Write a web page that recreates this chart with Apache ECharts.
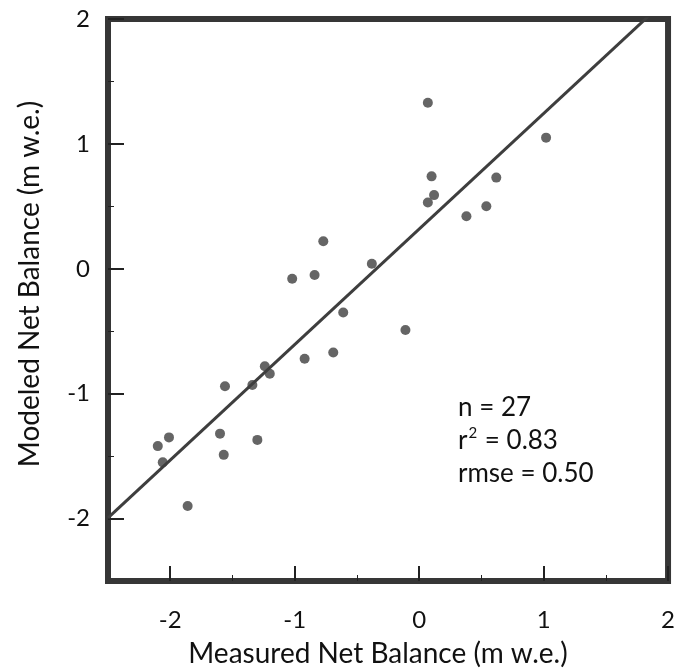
<!DOCTYPE html>
<html>
<head>
<meta charset="utf-8">
<script src="https://cdn.jsdelivr.net/npm/echarts@6/dist/echarts.min.js"></script>
<style>
  html, body { margin: 0; padding: 0; background: #fff; }
  #chart { width: 678px; height: 671px; }
</style>
</head>
<body>
<div id="chart"></div>
<script>
// Measured vs modeled glacier net balance (m w.e.)
const measured = [-0.92, -1.24, -1.20, -1.56, -1.34, -2.01, -2.10, -1.60, -1.30, -1.57, -2.06, -1.86,
                  -0.77, -1.02, -0.84, -0.38, -0.61, -0.11, -0.69,
                   0.07, 1.02, 0.10, 0.62, 0.12, 0.07, 0.54, 0.38];
const modeled  = [-0.72, -0.78, -0.84, -0.94, -0.93, -1.35, -1.42, -1.32, -1.37, -1.49, -1.55, -1.90,
                   0.22, -0.08, -0.05, 0.04, -0.35, -0.49, -0.67,
                   1.33, 1.05, 0.74, 0.73, 0.59, 0.53, 0.50, 0.42];

// Least-squares line drawn across the plot
const fitSlope = 0.925;
const fitIntercept = 0.318;

const majorTicks = [-2, -1, 0, 1, 2];
const minorTicks = [-1.5, -0.5, 0.5, 1.5];
// {sup|...} marks the superscript in the r-squared line
const statsLines = ['n = 27', 'r{sup|2} = 0.83', 'rmse = 0.50'];

const axisMin = -2.5, axisMax = 2;
const FONT = 'Lato';
const MARK = '#3e3e3e';

const points = measured.map((m, i) => [m, modeled[i]]);
const fitLine = [axisMin, axisMax].map(x => [x, fitIntercept + fitSlope * x]);

function makeAxis(ticks, len, width, withLabels, margin) {
  return {
    type: 'value', min: axisMin, max: axisMax, interval: 0.5,
    axisLine: { show: false, onZero: false },
    splitLine: { show: false },
    axisTick: { show: true, inside: true, length: len, customValues: ticks,
                lineStyle: { color: '#222', width: width } },
    axisLabel: withLabels
      ? { show: true, customValues: ticks, margin: margin, fontFamily: FONT, fontSize: 24, color: '#111' }
      : { show: false }
  };
}

const chart = echarts.init(document.getElementById('chart'), null, { renderer: 'canvas' });

const xMain = makeAxis(majorTicks, 15, 2, true, 27); xMain.position = 'bottom';
const xMinor = makeAxis(minorTicks, 6, 1, false, 0); xMinor.position = 'bottom';
const yMain = makeAxis(majorTicks, 16, 2, true, 18); yMain.position = 'left';
const yMinor = makeAxis(minorTicks, 6, 1, false, 0); yMinor.position = 'left';

chart.setOption({
  animation: false,
  grid: {
    left: 108, top: 19, width: 563, height: 562,
    show: true, borderColor: '#363636', borderWidth: 6, backgroundColor: 'transparent'
  },
  xAxis: [xMain, xMinor],
  yAxis: [yMain, yMinor],
  series: [
    {
      type: 'line', data: fitLine, xAxisIndex: 0, yAxisIndex: 0,
      showSymbol: false, symbol: 'none', clip: true,
      lineStyle: { color: MARK, width: 3 }, z: 2
    },
    {
      type: 'scatter', data: points, xAxisIndex: 0, yAxisIndex: 0,
      symbol: 'circle', symbolSize: 10,
      itemStyle: { color: MARK }, z: 3
    }
  ],
  graphic: [
    {
      type: 'text', x: 378, y: 654,
      style: { text: 'Measured Net Balance (m w.e.)', align: 'center', verticalAlign: 'middle',
               font: '28px ' + FONT, fill: '#111' }
    },
    {
      type: 'text', x: 30, y: 284, rotation: Math.PI / 2,
      style: { text: 'Modeled Net Balance (m w.e.)', align: 'center', verticalAlign: 'middle',
               font: '28px ' + FONT, fill: '#111' }
    }
  ].concat(statsLines.map((t, i) => ({
    type: 'text', x: 458, y: 408 + i * 33,
    style: {
      text: t, align: 'left', verticalAlign: 'middle',
      fontFamily: FONT, fontSize: 26, fill: '#111', lineHeight: 30,
      rich: {
        sup: { fontFamily: FONT, fontSize: 15, fill: '#111', lineHeight: 30, verticalAlign: 'top', padding: [0, 1, 10, 1] }
      }
    }
  })))
});
</script>
</body>
</html>
